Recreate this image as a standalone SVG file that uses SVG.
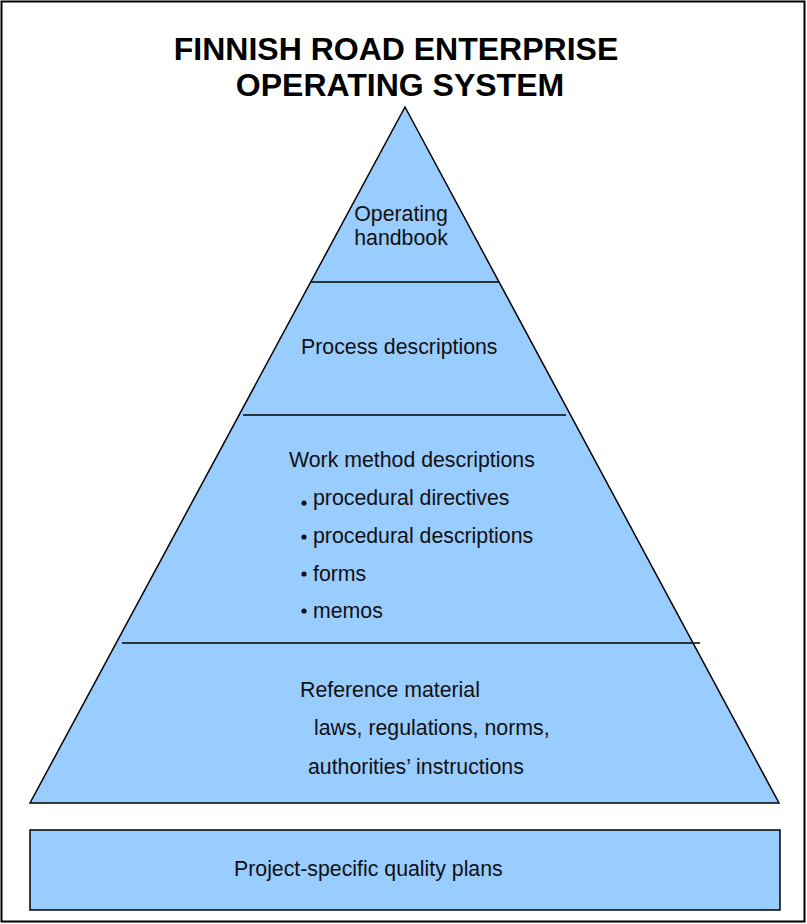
<svg xmlns="http://www.w3.org/2000/svg" width="807" height="924" viewBox="0 0 807 924">
  <style>
    .frame { fill: #ffffff; stroke: #000000; stroke-width: 2; }
    .level { fill: #99ccff; stroke: #000000; stroke-width: 1.5; stroke-linejoin: miter; }
    .divider { fill: none; stroke: #000000; stroke-width: 1.5; }
    .title { font-family: "Liberation Sans", Arial, sans-serif; font-size: 32px; font-weight: bold; fill: #000000; text-anchor: middle; }
    .label { font-family: "Liberation Sans", Arial, sans-serif; font-size: 21.3px; fill: #111111; }
    .bullet { fill: #111111; }
  </style>

  <!-- page frame -->
  <rect class="frame" x="1.5" y="1.5" width="803" height="920"/>

  <!-- title -->
  <g id="title">
    <text class="title" x="396" y="60">FINNISH ROAD ENTERPRISE</text>
    <text class="title" x="400" y="96">OPERATING SYSTEM</text>
  </g>

  <!-- pyramid body -->
  <g id="pyramid">
    <polygon class="level" points="405,107 779,803 30,803"/>
  </g>

  <!-- level dividers -->
  <g id="connectors">
    <line class="divider" x1="311" y1="282" x2="499" y2="282"/>
    <line class="divider" x1="243" y1="415" x2="566" y2="415"/>
    <line class="divider" x1="122" y1="643" x2="700" y2="643"/>
  </g>

  <g id="operating-handbook">
    <text class="label" x="401" y="221" text-anchor="middle">Operating</text>
    <text class="label" x="401" y="245" text-anchor="middle">handbook</text>
  </g>

  <g id="process-descriptions">
    <text class="label" x="301" y="354">Process descriptions</text>
  </g>

  <g id="work-method-descriptions">
    <text class="label" x="289" y="467">Work method descriptions</text>
    <circle class="bullet" cx="304" cy="503" r="2.6"/>
    <text class="label" x="313" y="505">procedural directives</text>
    <circle class="bullet" cx="304" cy="537" r="2.6"/>
    <text class="label" x="313" y="543">procedural descriptions</text>
    <circle class="bullet" cx="304" cy="574" r="2.6"/>
    <text class="label" x="313" y="581">forms</text>
    <circle class="bullet" cx="304" cy="611" r="2.6"/>
    <text class="label" x="313" y="618">memos</text>
  </g>

  <g id="reference-material">
    <text class="label" x="300" y="697">Reference material</text>
    <text class="label" x="314" y="735">laws, regulations, norms,</text>
    <text class="label" x="308" y="774">authorities’ instructions</text>
  </g>

  <g id="project-quality-plans">
    <rect class="level" x="30" y="830" width="750" height="80"/>
    <text class="label" x="234" y="876">Project-specific quality plans</text>
  </g>
</svg>
